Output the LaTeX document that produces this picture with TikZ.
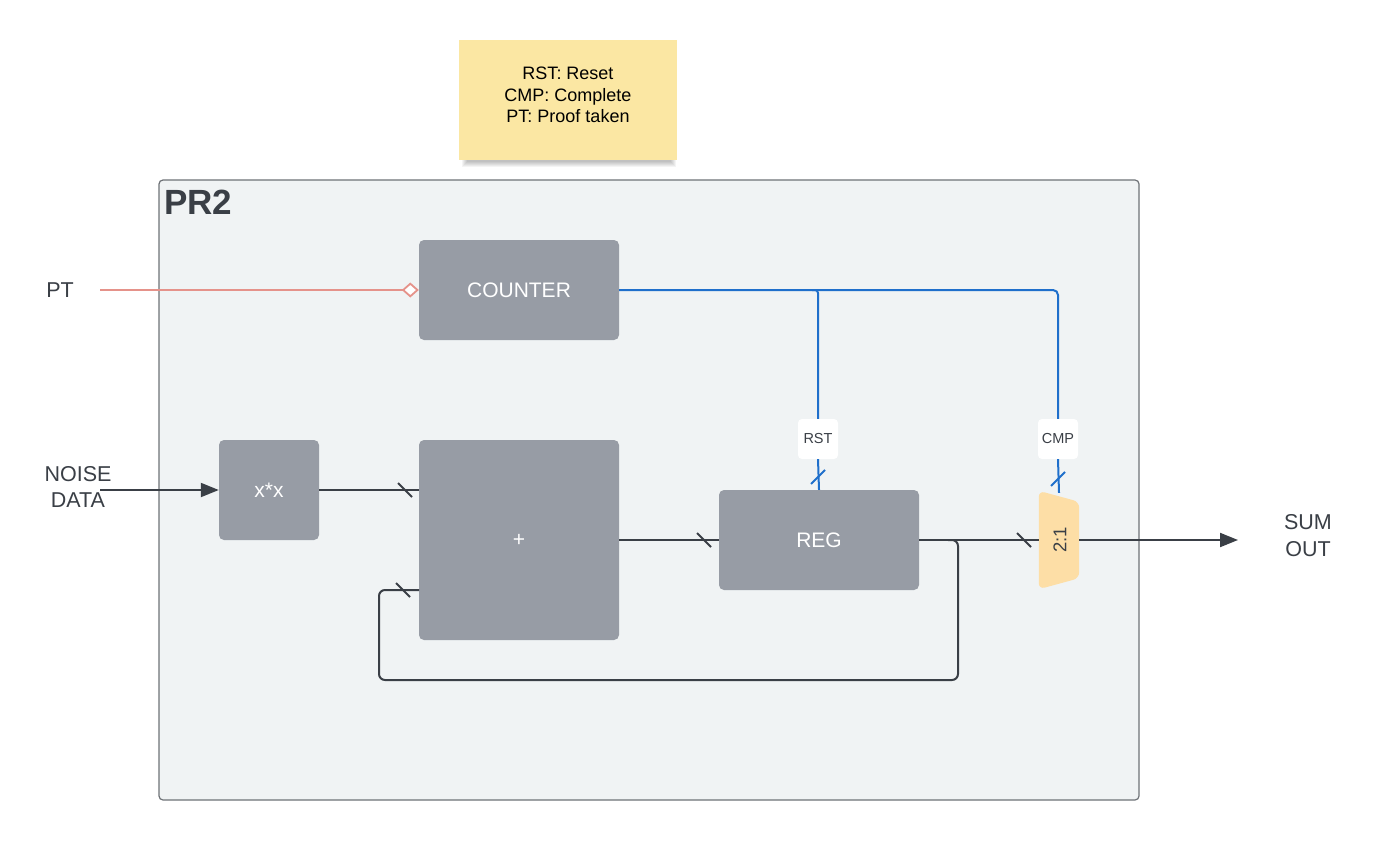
\documentclass[tikz,border=0pt]{standalone}
\usepackage{fontspec}
\setmainfont{Liberation Sans}
\usetikzlibrary{arrows.meta}
\definecolor{blockgray}{HTML}{979CA5}
\definecolor{areabg}{HTML}{F0F3F4}
\definecolor{areaborder}{HTML}{6E7277}
\definecolor{wire}{HTML}{3A3F46}
\definecolor{bluewire}{HTML}{1F6FCB}
\definecolor{ptwire}{HTML}{E5928A}
\definecolor{notebg}{HTML}{FBE7A3}
\definecolor{muxbg}{HTML}{FDDEA6}
\definecolor{txt}{HTML}{3A3F46}
\tikzset{
  block/.style={fill=blockgray, rounded corners=5, inner sep=0, text=white,
    font=\fontsize{21}{24}\selectfont},
  wirestyle/.style={draw=wire, line width=2},
  bwire/.style={draw=bluewire, line width=2},
  tag/.style={fill=white, rounded corners=4, minimum width=40, minimum height=40, inner sep=0,
    font=\fontsize{14.5}{16}\selectfont, text=txt},
  outer/.style={font=\fontsize{21.5}{26}\selectfont, text=txt, align=center},
  bslash/.pic={\draw[wire, line width=2] (-7,-7) -- (7,7);},
  fslash/.pic={\draw[bluewire, line width=2] (-7,7) -- (7,-7);},
}
\begin{document}
\begin{tikzpicture}[x=1pt,y=-1pt]
\useasboundingbox (0,0) rectangle (1399,840);
\fill[white] (0,0) rectangle (1399,840);
% note shadow (soft)
\foreach \i in {0,1,...,5}{
  \fill[black, opacity=0.045] (462+\i,150+\i) rectangle (676-\i,167-\i);
}
% note
\node (note) [fill=notebg, minimum width=218, minimum height=120, inner sep=0, align=center,
  text depth=10pt, font=\fontsize{18}{21.5}\selectfont]
  at (568,100) {RST: Reset\\CMP: Complete\\PT: Proof taken};
% container
\node (pr) [draw=areaborder, fill=areabg, line width=1.2, rounded corners=4,
  minimum width=980, minimum height=620, inner sep=0] at (649,490) {};
\node (prlabel) [anchor=west, font=\bfseries\fontsize{35}{38}\selectfont, text=txt, inner sep=0]
  at (164,202) {PR2};
% blocks
\node (counter) [block, minimum width=200, minimum height=100] at (519,290) {COUNTER};
\node (sq) [block, minimum width=100, minimum height=100] at (269,490) {x*x};
\node (add) [block, minimum width=200, minimum height=200] at (519,540) {+};
\node (reg) [block, minimum width=200, minimum height=100] at (819,540) {REG};
% mux
\node (mux) [minimum width=40, minimum height=98, inner sep=0] at (1059,540) {};
\fill[muxbg, rounded corners=6] (mux.south west) -- (mux.north west)
  -- ([shift={(0,11)}]mux.north east) -- ([shift={(0,-11)}]mux.south east) -- cycle;
\node (muxtext) [rotate=90, font=\fontsize{18.5}{20}\selectfont, text=txt] at (1060,540) {2:1};
% tags
\node (rst) [tag] at (818,439) {RST};
\node (cmp) [tag] at (1058,439) {CMP};
% outer labels
\node (pt) [outer] at (60,290) {PT};
\node (noise) [outer] at (78,487) {NOISE\\DATA};
\node (sum) [outer, font=\fontsize{21.5}{27}\selectfont] at (1308,536) {SUM\\OUT};
\coordinate (ptstart) at (100,290);
\coordinate (nstart) at (100,490);
\coordinate (sumend) at (1238,540);
% PT wire
\draw[draw=ptwire, line width=2, -{Diamond[open, fill=white, length=17, width=15, line width=1.8]}]
  (ptstart) -- (counter.west);
% blue wires
\coordinate (br) at (818,290);
\draw[bwire, rounded corners=5] (counter.east) -| (cmp.north);
\draw[bwire, rounded corners=3] ([xshift=-6]br) -| (rst.north);
\draw[bwire] (rst.south) -- (reg.north);
\draw[bwire] (cmp.south) -- ([yshift=-2]mux.north);
\pic at (818,477) {fslash};
\pic at (1058,479) {fslash};
% data wires
\draw[wirestyle, -{Triangle[length=18, width=14]}] (nstart) -- (sq.west);
\draw[wirestyle] (sq.east) -- (add.west |- sq.east);
\pic at (405,490) {bslash};
\draw[wirestyle] (add.east) -- (reg.west);
\pic at (704,540) {bslash};
\draw[wirestyle] (reg.east) -- (mux.west);
\pic at (1024,540) {bslash};
\coordinate (fb1) at (958,540);
\coordinate (fb2) at (958,680);
\coordinate (fb3) at (379,680);
\coordinate (fb4) at (419,590);
\draw[wirestyle, rounded corners=6] ([xshift=-10]fb1) -- (fb1) -- (fb2) -- (fb3) |- (fb4);
\pic at (403,590) {bslash};
\draw[wirestyle, -{Triangle[length=18, width=14]}] (mux.east) -- (sumend);
\end{tikzpicture}
\end{document}
